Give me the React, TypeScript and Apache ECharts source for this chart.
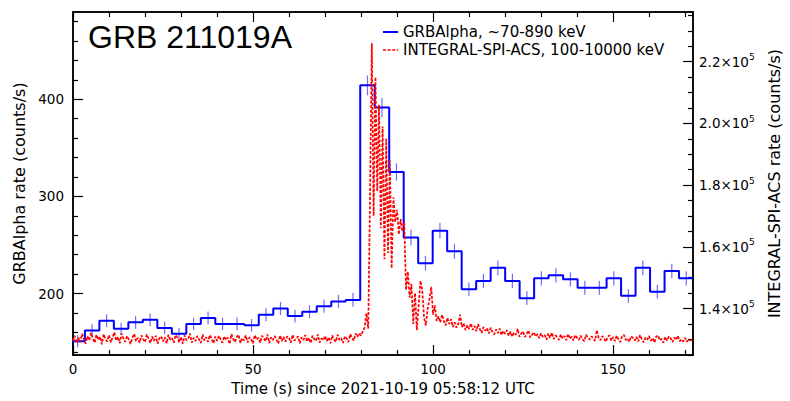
import React, { useEffect, useRef } from "react";
import * as echarts from "echarts";

const titleText = "GRB 211019A";
const grbName = "GRBAlpha, ~70-890 keV";
const integralName = "INTEGRAL-SPI-ACS, 100-10000 keV";
const xName = "Time (s) since 2021-10-19 05:58:12 UTC";
const leftName = "GRBAlpha rate (counts/s)";
const rightName = "INTEGRAL-SPI-ACS rate (counts/s)";

// axis ticks
const xTicks = [0, 50, 100, 150];
const xMinorTicks = [10, 20, 30, 40, 60, 70, 80, 90, 110, 120, 130, 140, 160, 170];
const leftTicks = [200, 300, 400];
const leftMinorTicks = [140, 160, 180, 220, 240, 260, 280, 320, 340, 360, 380, 420, 440, 460, 480];
// right axis in kilo-counts/s
const rightTicks = [140, 160, 180, 200, 220];
const rightMinorTicks = [125, 130, 135, 145, 150, 155, 165, 170, 175, 185, 190, 195, 205, 210, 215, 225, 230, 235];

// GRBAlpha light curve: 4.025 s bins, first bin starts at -0.725 s
const grbFirstEdge = -0.725;
const grbBinWidth = 4.025;
const grbRate = [
  151, 162, 172, 163.7, 170.4, 173, 164.7, 158.6, 168.8, 175,
  168.8, 168.8, 167.3, 178.2, 184.7, 176.9, 181.3, 187, 191.8, 193.5,
  414.3, 391.5, 325.2, 257.8, 231.3, 264.7, 243.5, 204.4, 213, 226.5,
  213, 195.3, 215.7, 218.8, 214.7, 206.1, 206.1, 215.7, 197.7, 226.5,
  202, 223.2, 215.7,
];
const grbErr = [
  6.2, 6.4, 6.6, 6.4, 6.5, 6.6, 6.4, 6.3, 6.5, 6.6,
  6.5, 6.5, 6.5, 6.7, 6.8, 6.6, 6.7, 6.8, 6.9, 7.0,
  10.2, 9.9, 9.0, 8.0, 7.6, 8.1, 7.8, 7.1, 7.3, 7.5,
  7.3, 7.0, 7.3, 7.4, 7.3, 7.2, 7.2, 7.3, 7.0, 7.5,
  7.1, 7.5, 7.3,
];

// INTEGRAL SPI-ACS light curve (kilo-counts/s), 0.5 s sampling from t = 0
const integralStep = 0.5;
const integralRate = [
  // 0 - 9.5
  129.5, 131.2, 128.8, 130.6, 129.1, 131.8, 130.2, 128.6, 131.0, 129.7, 132.1, 130.4, 128.9, 131.5, 129.8, 130.9, 128.4, 131.7, 130.1, 129.3,
  // 10 - 19.5
  131.4, 129.0, 130.7, 132.3, 129.6, 130.8, 128.7, 131.9, 130.3, 129.2, 131.1, 129.9, 128.5, 130.6, 131.8, 129.4, 130.5, 128.9, 131.3, 130.0,
  // 20 - 29.5
  129.1, 131.6, 130.2, 128.8, 130.9, 129.5, 131.2, 128.6, 130.4, 131.0, 129.3, 130.7, 128.7, 131.5, 129.9, 130.3, 128.9, 131.4, 130.6, 129.0,
  // 30 - 39.5
  130.8, 128.6, 131.3, 129.7, 130.1, 131.9, 128.9, 130.5, 129.4, 131.1, 130.0, 128.8, 131.6, 129.6, 130.7, 129.2, 131.4, 130.3, 128.7, 130.9,
  // 40 - 49.5
  129.5, 131.2, 130.0, 128.9, 131.0, 129.8, 130.6, 128.5, 131.7, 130.2, 129.1, 130.8, 131.5, 128.8, 130.4, 129.6, 131.3, 129.0, 130.7, 130.1,
  // 50 - 59.5
  128.7, 131.4, 129.9, 130.5, 128.9, 131.2, 130.3, 129.4, 131.6, 128.8, 130.6, 129.7, 131.1, 130.0, 128.6, 131.3, 129.5, 130.8, 129.2, 131.0,
  // 60 - 69.5
  130.4, 128.9, 131.5, 129.6, 130.2, 131.0, 128.7, 130.7, 129.8, 131.4, 129.3, 130.5, 128.8, 131.2, 130.1, 129.5, 131.6, 128.9, 130.3, 129.7,
  // 70 - 79.5
  131.1, 129.4, 130.6, 128.7, 131.3, 130.0, 129.2, 131.5, 129.8, 130.4, 128.8, 131.0, 130.3, 129.1, 131.7, 130.5, 129.6, 131.9, 130.8, 132.0,
  // 80 - 84.5
  131.2, 132.6, 133.8, 138.5, 133.5, 176, 226, 170, 215, 178,
  // 85 - 89.5
  206, 166, 199, 156, 195, 158, 188, 153, 176, 168,
  // 90 - 94.5
  172, 164, 169, 165, 168, 146, 152, 143.5, 148, 135,
  // 95 - 99.5
  145, 133, 141, 149, 146, 137, 134.5, 140, 143, 147,
  // 100 - 104.5
  138, 141, 136, 137.5, 135.5, 138, 136, 134.5, 137, 135,
  // 105 - 109.5
  136.5, 134, 135.5, 133.8, 135, 138, 134, 135.2, 133, 134.6,
  // 110
  133.4,
  // 110.5 - 119.5
  135.2, 133.1, 134.4, 132.6, 134.9, 133.3, 132.1, 134.0, 132.8, 133.6, 131.9, 133.8, 132.4, 131.6, 133.2, 132.0, 133.5, 131.4, 132.7,
  // 120 - 129.5
  131.8, 133.0, 131.2, 132.5, 130.9, 132.2, 131.5, 133.4, 130.8, 131.9, 132.6, 130.7, 131.8, 132.9, 130.6, 131.5, 132.3, 130.9, 131.7, 130.4,
  // 130 - 139.5
  132.0, 130.8, 131.4, 129.9, 131.9, 130.5, 132.2, 130.1, 131.3, 130.7, 129.8, 131.6, 130.3, 131.1, 129.7, 131.8, 130.2, 130.9, 129.6, 131.4,
  // 140 - 149.5
  130.5, 129.8, 131.2, 130.0, 129.4, 131.5, 130.6, 129.9, 131.0, 130.2, 129.5, 133.0, 130.4, 129.7, 131.1, 130.3, 129.2, 130.8, 131.3, 129.6,
  // 150 - 159.5
  130.7, 129.4, 131.2, 130.0, 129.1, 130.9, 131.5, 129.8, 130.3, 129.2, 131.0, 130.5, 129.6, 130.8, 129.3, 131.4, 130.1, 129.0, 130.6, 129.9,
  // 160 - 169.5
  131.1, 129.5, 130.4, 129.0, 130.9, 131.3, 129.7, 130.2, 128.9, 130.8, 129.6, 131.0, 130.3, 129.1, 130.6, 129.8, 131.2, 129.4, 130.0, 129.3,
  // 170 - 172
  130.5, 129.2, 130.1, 129.6, 130.3,
];

const X_MIN = 0;
const X_MAX = 172.2;
const L_MIN = 136.7;
const L_MAX = 489.8;
const R_MIN = 124.9;
const R_MAX = 236.1;

const FONT = "DejaVu Sans";
const BLACK = "#000000";
const BLUE = "#0000ff";
const RED = "#ff0000";
const RED_DASH = [3, 1.6];

function tickAxis(base: any, values: number[], len: number, label: any) {
  return {
    ...base,
    axisLine: { show: true, onZero: false, lineStyle: { color: BLACK, width: 1.5 } },
    axisTick: { show: true, inside: true, length: len, customValues: values, lineStyle: { color: BLACK, width: 1.2 } },
    axisLabel: label,
    splitLine: { show: false },
    minorTick: { show: false },
  };
}

export default function App() {
  const ref = useRef<HTMLDivElement>(null);

  useEffect(() => {
    if (!ref.current) return;
    const chart = echarts.init(ref.current, undefined, { renderer: "svg" });

    const stepData: number[][] = grbRate.map((v, k) => [grbFirstEdge + k * grbBinWidth, v]);
    stepData.push([grbFirstEdge + grbRate.length * grbBinWidth, grbRate[grbRate.length - 1]]);
    const errData = grbRate.map((v, k) => [
      grbFirstEdge + (k + 0.5) * grbBinWidth,
      v - grbErr[k],
      v + grbErr[k],
    ]);
    const intData = integralRate.map((v, i) => [i * integralStep, v]);

    const xBase = { type: "value", min: X_MIN, max: X_MAX, gridIndex: 0 };
    const lBase = { type: "value", min: L_MIN, max: L_MAX, gridIndex: 0 };
    const rBase = { type: "value", min: R_MIN, max: R_MAX, gridIndex: 0 };
    const noLabel = { show: false };

    const legendText = (text: string, y: number) => ({
      type: "text",
      x: 403,
      y,
      style: { text, fontFamily: FONT, fontSize: 15, fill: BLACK, verticalAlign: "middle", align: "left" },
      z: 10,
    });

    const option: any = {
      animation: false,
      backgroundColor: "#ffffff",
      textStyle: { fontFamily: FONT },
      grid: { left: 73, right: 97, top: 12, bottom: 43, containLabel: false },
      graphic: [
        {
          type: "text",
          x: 88,
          y: 37,
          style: {
            text: titleText,
            fontFamily: "Liberation Sans",
            fontSize: 32,
            fill: BLACK,
            verticalAlign: "middle",
            align: "left",
          },
          z: 10,
        },
        {
          type: "line",
          shape: { x1: 383, y1: 32, x2: 398, y2: 32 },
          style: { stroke: BLUE, lineWidth: 2 },
          z: 10,
        },
        legendText(grbName, 32),
        {
          type: "line",
          shape: { x1: 383, y1: 50, x2: 398, y2: 50 },
          style: { stroke: RED, lineWidth: 1.7, lineDash: RED_DASH },
          z: 10,
        },
        legendText(integralName, 50),
      ],
      xAxis: [
        tickAxis(
          {
            ...xBase,
            position: "bottom",
            name: xName,
            nameLocation: "middle",
            nameGap: 21,
            nameTextStyle: { fontFamily: FONT, fontSize: 15, color: BLACK },
          },
          xTicks,
          10,
          { show: true, customValues: xTicks, margin: 7, fontFamily: FONT, fontSize: 13.5, color: BLACK }
        ),
        tickAxis({ ...xBase, position: "bottom" }, xMinorTicks, 5, noLabel),
        tickAxis({ ...xBase, position: "top" }, xTicks, 10, noLabel),
        tickAxis({ ...xBase, position: "top" }, xMinorTicks, 5, noLabel),
      ],
      yAxis: [
        tickAxis(
          {
            ...lBase,
            position: "left",
            name: leftName,
            nameLocation: "middle",
            nameRotate: 90,
            nameGap: 43,
            nameTextStyle: { fontFamily: FONT, fontSize: 16, color: BLACK },
          },
          leftTicks,
          10,
          { show: true, customValues: leftTicks, margin: 9, fontFamily: FONT, fontSize: 13.5, color: BLACK }
        ),
        tickAxis({ ...lBase, position: "left" }, leftMinorTicks, 5, noLabel),
        tickAxis(
          {
            ...rBase,
            position: "right",
            name: rightName,
            nameLocation: "middle",
            nameRotate: 90,
            nameGap: 73,
            nameTextStyle: { fontFamily: FONT, fontSize: 16, color: BLACK },
          },
          rightTicks,
          10,
          {
            show: true,
            customValues: rightTicks,
            margin: 6,
            color: BLACK,
            formatter: (v: number) => `{m|${(v / 100).toFixed(1)}×10}{s|5}`,
            rich: {
              m: { fontFamily: FONT, fontSize: 13.5, color: BLACK, lineHeight: 18 },
              s: { fontFamily: FONT, fontSize: 9, color: BLACK, lineHeight: 9, verticalAlign: "top" },
            },
          }
        ),
        tickAxis({ ...rBase, position: "right" }, rightMinorTicks, 5, noLabel),
      ],
      series: [
        {
          name: grbName,
          type: "line",
          xAxisIndex: 0,
          yAxisIndex: 0,
          step: "end",
          data: stepData,
          symbol: "none",
          showSymbol: false,
          color: BLUE,
          lineStyle: { color: BLUE, width: 2 },
          z: 3,
        },
        {
          name: "grbErrors",
          type: "custom",
          xAxisIndex: 0,
          yAxisIndex: 0,
          data: errData,
          encode: { x: 0, y: [1, 2] },
          renderItem: (_params: any, api: any) => {
            const x = api.value(0);
            const p1 = api.coord([x, api.value(1)]);
            const p2 = api.coord([x, api.value(2)]);
            return {
              type: "line",
              shape: { x1: p1[0], y1: p1[1], x2: p2[0], y2: p2[1] },
              style: { stroke: "#6e6eff", lineWidth: 1.2 },
            };
          },
          z: 2,
        },
        {
          name: integralName,
          type: "line",
          xAxisIndex: 0,
          yAxisIndex: 2,
          data: intData,
          symbol: "none",
          showSymbol: false,
          color: RED,
          lineStyle: { color: RED, width: 1.7, type: RED_DASH },
          z: 4,
        },
      ],
    };

    chart.setOption(option);
    return () => chart.dispose();
  }, []);

  return (
    <div
      ref={ref}
      style={{ position: "absolute", left: 0, top: 0, width: 790, height: 401, background: "#ffffff" }}
    />
  );
}
